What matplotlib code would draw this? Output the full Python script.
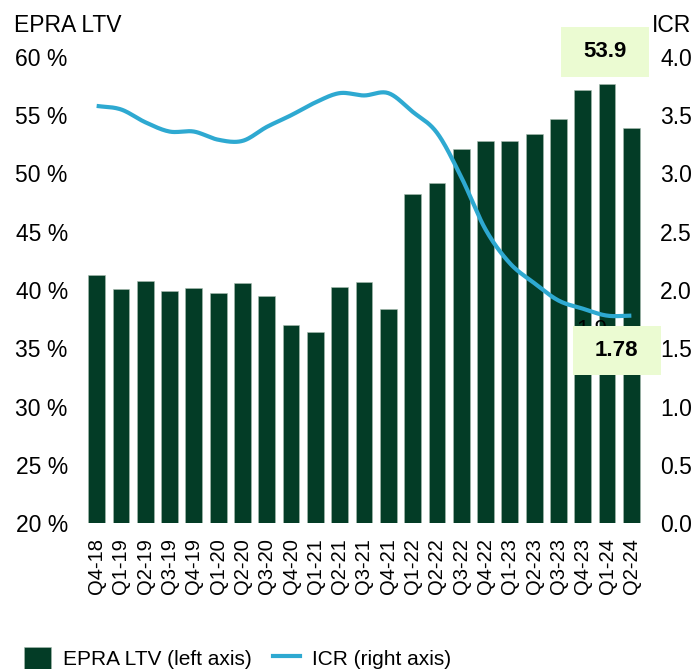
import numpy as np
import matplotlib
matplotlib.use("Agg")
import matplotlib.pyplot as plt
from matplotlib.patches import Rectangle, Patch
from matplotlib.lines import Line2D

plt.rcParams['font.family'] = ['Liberation Sans', 'DejaVu Sans']

quarters = ["Q4-18", "Q1-19", "Q2-19", "Q3-19", "Q4-19", "Q1-20", "Q2-20", "Q3-20",
            "Q4-20", "Q1-21", "Q2-21", "Q3-21", "Q4-21", "Q1-22", "Q2-22", "Q3-22",
            "Q4-22", "Q1-23", "Q2-23", "Q3-23", "Q4-23", "Q1-24", "Q2-24"]
ltv = [41.3, 40.1, 40.8, 39.9, 40.2, 39.7, 40.6, 39.5, 37.0, 36.4, 40.3, 40.7,
       38.4, 48.2, 49.2, 52.1, 52.8, 52.8, 53.4, 54.7, 57.2, 57.7, 53.9]
icr = [3.58, 3.55, 3.44, 3.36, 3.36, 3.29, 3.28, 3.40, 3.50, 3.61, 3.69, 3.67,
       3.69, 3.53, 3.35, 2.97, 2.52, 2.23, 2.06, 1.91, 1.84, 1.78, 1.78]
left_ticks = [20, 25, 30, 35, 40, 45, 50, 55, 60]
right_ticks = [0.0, 0.5, 1.0, 1.5, 2.0, 2.5, 3.0, 3.5, 4.0]

BAR = "#033c26"
LINE = "#2ea9d1"
BOX = "#ebfbd2"


def smooth(x, y, n=20):
    # Catmull-Rom curve through the points (for drawing a smoothed line)
    x = np.asarray(x, float); y = np.asarray(y, float)
    px = np.concatenate([[2 * x[0] - x[1]], x, [2 * x[-1] - x[-2]]])
    py = np.concatenate([[2 * y[0] - y[1]], y, [2 * y[-1] - y[-2]]])
    xs, ys = [], []
    t = np.linspace(0, 1, n, endpoint=False)
    for i in range(1, len(px) - 2):
        for arr, out in ((px, xs), (py, ys)):
            p0, p1, p2, p3 = arr[i - 1], arr[i], arr[i + 1], arr[i + 2]
            out.extend(0.5 * ((2 * p1) + (-p0 + p2) * t + (2 * p0 - 5 * p1 + 4 * p2 - p3) * t ** 2
                              + (-p0 + 3 * p1 - 3 * p2 + p3) * t ** 3))
    xs.append(x[-1]); ys.append(y[-1])
    return np.array(xs), np.array(ys)


fig = plt.figure(figsize=(6.97, 6.69), dpi=100)
ax = fig.add_axes([84.5 / 697, 1 - 523 / 669, (643.5 - 84.5) / 697, (523 - 57) / 669])
x = np.arange(len(quarters))
ax.bar(x, ltv, width=0.69, color=BAR, edgecolor="#a9bcb0", linewidth=0.4, zorder=2)
ax.set_xlim(-0.5, len(quarters) - 0.5)
ax.set_ylim(20, 60)
ax.set_yticks(left_ticks)
ax.set_yticklabels([f"{v} %" for v in left_ticks])
ax.set_xticks(x)
ax.set_xticklabels(quarters, rotation=90)
ax.tick_params(axis='y', length=0, labelsize=16.5, pad=12)
ax.tick_params(axis='x', length=0, labelsize=14.5, pad=11)
for s in ax.spines.values():
    s.set_visible(False)

ax2 = ax.twinx()
ax2.set_ylim(0, 4.0)
ax2.set_yticks(right_ticks)
ax2.set_yticklabels([f"{v:.1f}" for v in right_ticks])
ax2.tick_params(axis='y', length=0, labelsize=16.5, pad=12)
for s in ax2.spines.values():
    s.set_visible(False)
sx, sy = smooth(x, icr)
ax2.plot(sx, sy, color=LINE, lw=3.0, solid_capstyle='butt', zorder=3)

# hidden data label partly covered by the box
ax2.text(20.35, 1.66, "1.9", ha='center', va='center', fontsize=16, color='black', zorder=4)

# value boxes
ax2.add_patch(Rectangle((19.1, 3.83), 3.63, 0.43, facecolor=BOX, edgecolor='none',
                        clip_on=False, zorder=5))
ax2.text(20.9, 4.045, f"{ltv[-1]:.1f}", ha='center', va='center', fontsize=16,
         fontweight='bold', zorder=6, clip_on=False)
ax2.add_patch(Rectangle((19.6, 1.27), 3.6, 0.42, facecolor=BOX, edgecolor='none',
                        clip_on=False, zorder=5))
ax2.text(21.4, 1.48, f"{icr[-1]:.2f}", ha='center', va='center', fontsize=16,
         fontweight='bold', zorder=6, clip_on=False)

fig.text(14 / 697, 1 - 25 / 669, "EPRA LTV", fontsize=16.5, ha='left', va='center')
fig.text(652 / 697, 1 - 25 / 669, "ICR", fontsize=16.5, ha='left', va='center')

handles = [Patch(facecolor=BAR, edgecolor='#a9bcb0', linewidth=0.4),
           Line2D([0], [0], color=LINE, lw=3.0)]
fig.legend(handles, ["EPRA LTV (left axis)", "ICR (right axis)"], loc='lower left',
           bbox_to_anchor=(5 / 697, -19 / 669), ncol=2, frameon=False, fontsize=15,
           handlelength=1.3, handleheight=1.3, handletextpad=0.6, columnspacing=1.0)

fig.savefig("out.png", dpi=100)
